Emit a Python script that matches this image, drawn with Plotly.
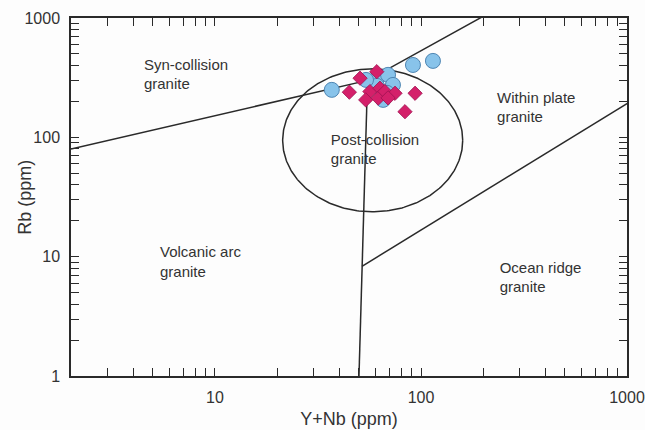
import numpy as np
import plotly.graph_objects as go

# ---- sample data (Y+Nb, Rb in ppm) ----
blue_x = [36.9, 91.4, 114.3, 57.8, 61.8, 69.2, 61.1, 73.1, 68.4, 65.5, 54.1]
blue_y = [250, 404, 437, 291, 321, 334, 270, 275, 236, 206, 303]
pink_x = [61.0, 50.6, 44.9, 56.5, 53.9, 63.2, 62.0, 66.8, 74.8, 93.6, 83.6, 69.2]
pink_y = [355, 313, 239, 242, 206, 258, 213, 242, 234, 234, 164, 214]

# ---- discrimination boundaries (Pearce et al.) ----
syn_x = [2, 55, 400]
syn_y = [80, 300, 2000]
vag_x = [50, 55]
vag_y = [1, 300]
org_x = [51.7, 2000]
org_y = [8.3, 400]

# post-collision field (ellipse in log space): centre and half-axes in decades
ell_cx, ell_cy = 1.7655, 1.975
ell_rx, ell_ry = 0.437, 0.599

# field labels
field_names = ["Syn-collision<br>granite", "Within plate<br>granite",
               "Post-collision<br>granite", "Volcanic arc<br>granite",
               "Ocean ridge<br>granite"]
field_x = [4.52, 234, 36.5, 5.41, 241]
field_y = [327, 173, 76.9, 8.85, 6.5]

x_ticks = [10, 100, 1000]
y_ticks = [1, 10, 100, 1000]

LINE = "#2a2a2a"
TXT = "#333333"
FONT = "Liberation Sans, Arial, sans-serif"


def minor_vals(lo, hi):
    return [m * 10 ** e for e in range(lo, hi) for m in range(2, 10)]


fig = go.Figure()

for xs, ys in [(syn_x, syn_y), (vag_x, vag_y), (org_x, org_y)]:
    fig.add_trace(go.Scatter(x=xs, y=ys, mode="lines",
                             line=dict(color=LINE, width=1.5),
                             hoverinfo="skip", showlegend=False))

t = np.linspace(0, 2 * np.pi, 300)
fig.add_trace(go.Scatter(x=10 ** (ell_cx + ell_rx * np.cos(t)),
                         y=10 ** (ell_cy + ell_ry * np.sin(t)),
                         mode="lines", line=dict(color=LINE, width=1.5),
                         hoverinfo="skip", showlegend=False))

fig.add_trace(go.Scatter(x=field_x, y=field_y, mode="text", text=field_names,
                         textposition="middle right",
                         textfont=dict(family=FONT, size=15, color=TXT),
                         hoverinfo="skip", showlegend=False))

fig.add_trace(go.Scatter(x=blue_x, y=blue_y, mode="markers",
                         marker=dict(symbol="circle", size=15, color="#88c3ea",
                                     line=dict(color="#4f86b3", width=1)),
                         showlegend=False))
fig.add_trace(go.Scatter(x=pink_x, y=pink_y, mode="markers",
                         marker=dict(symbol="diamond", size=11, color="#d4206a",
                                     line=dict(color="#9e1250", width=0.8)),
                         showlegend=False))

axis_common = dict(type="log", showgrid=False, zeroline=False, automargin=False,
                   showline=True, linecolor=LINE, linewidth=1.5, mirror="ticks",
                   ticks="inside", ticklen=8, tickwidth=1.2, tickcolor=LINE,
                   tickmode="array",
                   tickfont=dict(family=FONT, size=16, color=TXT))

fig.update_xaxes(**axis_common, range=[np.log10(2), 3],
                 tickvals=x_ticks, ticktext=[str(v) for v in x_ticks],
                 ticklabelstandoff=6,
                 minor=dict(ticks="inside", ticklen=8, tickwidth=1.2,
                            tickcolor=LINE, tickvals=minor_vals(0, 3), showgrid=False),
                 title=dict(text="Y+Nb (ppm)", standoff=7,
                            font=dict(family=FONT, size=18, color=TXT)))
fig.update_yaxes(**axis_common, range=[0, 3],
                 tickvals=y_ticks, ticktext=[str(v) for v in y_ticks],
                 ticklabelstandoff=6,
                 minor=dict(ticks="inside", ticklen=8, tickwidth=1.2,
                            tickcolor=LINE, tickvals=minor_vals(0, 3), showgrid=False))

fig.add_annotation(text="Rb (ppm)", textangle=-90, showarrow=False,
                   xref="paper", yref="paper", x=-0.083, y=0.5,
                   xanchor="center", yanchor="middle",
                   font=dict(family=FONT, size=18, color=TXT))

fig.update_layout(width=645, height=430,
                  margin=dict(l=71, r=18, t=18, b=54),
                  paper_bgcolor="#fdfdfd", plot_bgcolor="#fdfdfd",
                  font=dict(family=FONT, color=TXT))

fig.write_html("out.html")
